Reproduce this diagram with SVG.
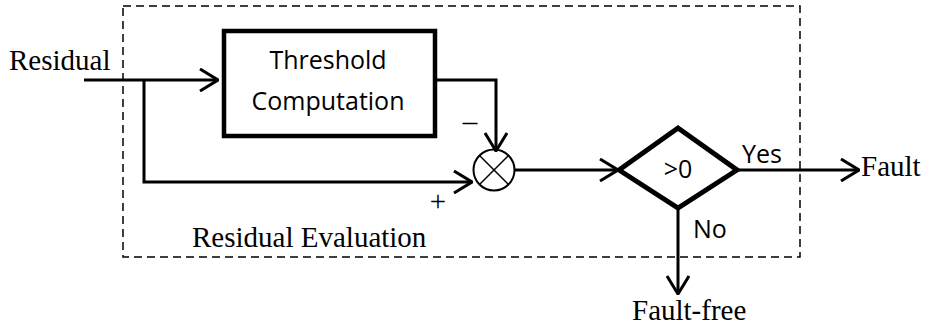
<svg xmlns="http://www.w3.org/2000/svg" width="931" height="327" viewBox="0 0 931 327">
<defs>
<style>
.serif{font-family:"Liberation Serif","Times New Roman",serif;font-size:29px;fill:#000}
.sans{font-family:"Open Sans","Liberation Sans",sans-serif;font-size:25px;fill:#000}
.wire{fill:none;stroke:#000;stroke-width:3}
</style>
<marker id="arr" viewBox="0 0 20 24" refX="19" refY="12" markerWidth="20" markerHeight="24" markerUnits="userSpaceOnUse" orient="auto">
<path d="M1,1 L19,12 L1,23" fill="none" stroke="#000" stroke-width="3"/>
</marker>
</defs>
<rect width="931" height="327" fill="#fff"/>
<g id="frame">
<rect x="123" y="6" width="677" height="251" fill="none" stroke="#000" stroke-width="1.5" stroke-dasharray="8,5"/>
<text class="serif" x="192" y="247">Residual Evaluation</text>
</g>
<g id="input">
<text class="serif" x="9" y="70">Residual</text>
</g>
<g id="threshold">
<rect x="224" y="31" width="211" height="105" fill="#fff" stroke="#000" stroke-width="4.5"/>
<text class="sans" x="328" y="69" text-anchor="middle">Threshold</text>
<text class="sans" x="328" y="110" text-anchor="middle">Computation</text>
</g>
<g id="multiplier">
<circle cx="494" cy="170" r="20.5" fill="#fff" stroke="#000" stroke-width="2"/>
<path d="M479.5,155.5 L508.5,184.5 M508.5,155.5 L479.5,184.5" stroke="#000" stroke-width="1.5"/>
<text class="serif" x="470" y="131" text-anchor="middle" font-size="30">–</text>
<text class="serif" x="438" y="211" text-anchor="middle" font-size="28">+</text>
</g>
<g id="decision">
<path d="M619,170 L678,128 L737,170 L678,208 Z" fill="#fff" stroke="#000" stroke-width="5" stroke-linejoin="miter"/>
<text class="sans" x="678" y="178" text-anchor="middle">&gt;0</text>
<text class="sans" x="742" y="163">Yes</text>
<text class="sans" x="693" y="238" font-size="24">No</text>
</g>
<g id="outputs">
<text class="serif" x="861" y="176">Fault</text>
<text class="serif" x="632" y="320">Fault-free</text>
</g>
<g id="connectors">
<path class="wire" d="M84,80 L218,80" marker-end="url(#arr)"/>
<path class="wire" d="M144,80 L144,182 L472,182" marker-end="url(#arr)"/>
<path class="wire" d="M435,80 L496,80 L496,151" marker-end="url(#arr)"/>
<path class="wire" d="M515,170 L618,170" marker-end="url(#arr)"/>
<path class="wire" d="M737,170 L859,170" marker-end="url(#arr)"/>
<path class="wire" d="M678,208 L678,294" marker-end="url(#arr)"/>
</g>
</svg>
